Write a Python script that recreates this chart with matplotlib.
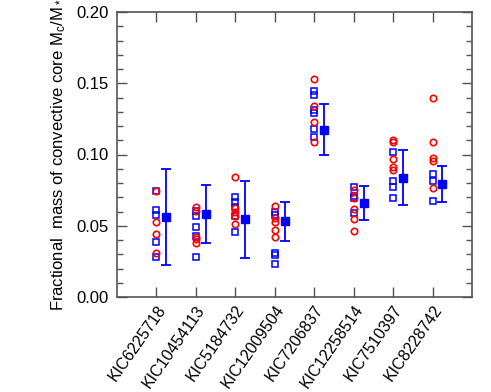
import matplotlib
matplotlib.use("Agg")
import matplotlib.pyplot as plt
from matplotlib.ticker import MultipleLocator
import numpy as np

plt.rcParams['font.family'] = ['Liberation Sans', 'DejaVu Sans']
plt.rcParams['mathtext.fontset'] = 'custom'
plt.rcParams['mathtext.rm'] = 'Liberation Sans'
plt.rcParams['mathtext.it'] = 'Liberation Sans:italic'

stars = ["KIC6225718", "KIC10454113", "KIC5184732", "KIC12009504",
         "KIC7206837", "KIC12258514", "KIC7510397", "KIC8228742"]

red_circles = [
    [0.0741, 0.0523, 0.0443, 0.0308],
    [0.0631, 0.0603, 0.0420, 0.0406, 0.0382],
    [0.0843, 0.0624, 0.0598, 0.0570, 0.0509],
    [0.0636, 0.0554, 0.0523, 0.0472, 0.0418],
    [0.1532, 0.1340, 0.1230, 0.1089],
    [0.0753, 0.0695, 0.0617, 0.0549, 0.0462],
    [0.1105, 0.1091, 0.0969, 0.0913, 0.0894],
    [0.1396, 0.1089, 0.0976, 0.0953, 0.0767],
]
blue_squares = [
    [0.0741, 0.0612, 0.0572, 0.0387, 0.0284],
    [0.0603, 0.0565, 0.0491, 0.0429, 0.0284],
    [0.0699, 0.0664, 0.0631, 0.0570, 0.0458],
    [0.0594, 0.0575, 0.0312, 0.0298, 0.0232],
    [0.1443, 0.1420, 0.1312, 0.1288, 0.1181, 0.1124],
    [0.0772, 0.0711, 0.0692, 0.0589],
    [0.1021, 0.0812, 0.0772, 0.0695],
    [0.0861, 0.0812, 0.0671],
]
means = [0.0561, 0.0584, 0.0547, 0.0530, 0.1173, 0.0660, 0.0838, 0.0796]
err_top = [0.0899, 0.0784, 0.0817, 0.0664, 0.1352, 0.0777, 0.1035, 0.0922]
err_bot = [0.0223, 0.0378, 0.0275, 0.0396, 0.1000, 0.0542, 0.0648, 0.0667]

fig = plt.figure(figsize=(4.91, 3.92), dpi=100)
ax = fig.add_axes([117/491, 1-297/392, (472-117)/491, (297-12)/392])

pos = np.arange(1, len(stars) + 1)
for i, p in enumerate(pos):
    ax.plot([p]*len(blue_squares[i]), blue_squares[i], ls='none', marker='s',
            mfc='none', mec='blue', ms=4.3, mew=1.1)
    ax.plot([p]*len(red_circles[i]), red_circles[i], ls='none', marker='o',
            mfc='none', mec='red', ms=4.6, mew=1.2)

m = np.array(means)
lo = m - np.array(err_bot)
hi = np.array(err_top) - m
ax.errorbar(pos + 0.25, m, yerr=[lo, hi], fmt='s', color='blue', ms=5.2,
            capsize=3.5, elinewidth=1.3, capthick=1.3)

ax.set_xlim(0, 9)
ax.set_ylim(0, 0.20)
ax.set_xticks(pos)
ax.set_xticklabels(stars, rotation=55, ha='right', rotation_mode='anchor',
                   fontsize=11.5)
ax.yaxis.set_minor_locator(MultipleLocator(0.01))
ax.set_yticks([0, 0.05, 0.10, 0.15, 0.20])
ax.set_yticklabels(["0.00", "0.05", "0.10", "0.15", "0.20"], fontsize=12)
ax.tick_params(axis='both', which='major', direction='in', top=True, right=True,
               length=7, width=1.0, color='#555555')
ax.tick_params(axis='y', which='minor', direction='in', left=True, right=True,
               length=4, width=1.0, color='#555555')
ax.tick_params(axis='x', which='major', pad=4)
ax.tick_params(axis='y', which='major', pad=6)
for s in ax.spines.values():
    s.set_color('#555555')
    s.set_linewidth(1.2)

ax.set_ylabel(r"Fractional  mass of convective core M$_\mathrm{c}$/M$_*$",
              fontsize=12, labelpad=6)

fig.savefig("out.png", dpi=100)
